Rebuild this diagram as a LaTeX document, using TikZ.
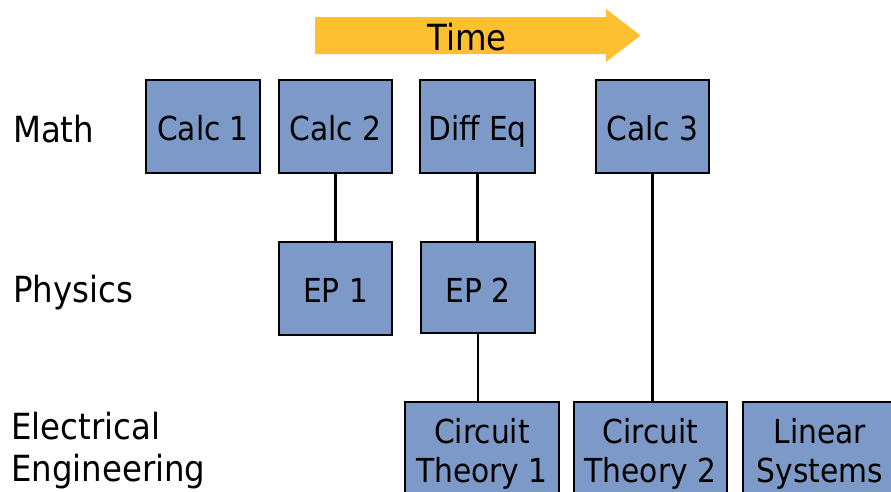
\documentclass[tikz,border=0pt]{standalone}
\usepackage{fontspec}
\setmainfont{DejaVu Sans Condensed}
\definecolor{boxblue}{RGB}{124,153,200}
\definecolor{timeyellow}{RGB}{252,192,48}
\tikzset{
  course/.style={draw=black, line width=2pt, fill=boxblue, inner sep=0pt,
    minimum height=93pt},
  coursetext/.style={anchor=base, inner sep=0pt, align=center,
    font=\fontsize{33}{39}\selectfont},
  rowlabel/.style={anchor=base west, inner sep=0pt, align=left,
    font=\fontsize{36}{43}\selectfont},
  link/.style={draw=black, line width=2.8pt}
}
\begin{document}
\begin{tikzpicture}[x=1pt,y=-1pt]
\useasboundingbox (0,0) rectangle (891,491);
\clip (0,0) rectangle (891,491);
\fill[white] (0,0) rectangle (891,491);
% time arrow
\fill[timeyellow] (315,17) -- (606,17) -- (606,9) -- (640.5,35.5) -- (606,62) -- (606,54) -- (315,54) -- cycle;
\node[anchor=base, inner sep=0pt, font=\fontsize{36}{43}\selectfont] (time) at (467,50) {Time};
% row labels
\node[rowlabel] (lmath) at (13,142) {Math};
\node[rowlabel] (lphys) at (13,302) {Physics};
\node[rowlabel, font=\fontsize{36}{42}\selectfont] (lee) at (11,481.5) {Electrical\\Engineering};
% boxes
\node[course, minimum width=114pt] (c1) at (203,126.5) {};
\node[course, minimum width=113pt] (c2) at (335.5,126.5) {};
\node[course, minimum width=115pt] (de) at (477.5,126.5) {};
\node[course, minimum width=113pt] (c3) at (652.5,126.5) {};
\node[course, minimum width=113pt] (ep1) at (335.5,288.5) {};
\node[course, minimum width=114pt, minimum height=91pt] (ep2) at (478,287.5) {};
\node[course, minimum width=154pt] (ct1) at (482,448.5) {};
\node[course, minimum width=153pt] (ct2) at (650.5,448.5) {};
\node[course, minimum width=154pt] (ls) at (820,448.5) {};
% box texts
\node[coursetext] (c1t) at (203,140) {Calc 1};
\node[coursetext] (c2t) at (335.5,140) {Calc 2};
\node[coursetext] (det) at (477.5,140) {Diff Eq};
\node[coursetext] (c3t) at (652.5,140) {Calc 3};
\node[coursetext] (ep1t) at (335.5,302) {EP 1};
\node[coursetext] (ep2t) at (478,302) {EP 2};
\node[coursetext] (ct1t) at (482,482) {Circuit\\Theory 1};
\node[coursetext] (ct2t) at (650.5,482) {Circuit\\Theory 2};
\node[coursetext] (lst) at (820,482) {Linear\\Systems};
% connectors
\draw[link] (c2.south) -- (ep1.north);
\draw[link] (de.south) -- (de.south |- ep2.north);
\draw[link] (ep2.south) -- (ep2.south |- ct1.north);
\draw[link] (c3.south) -- (c3.south |- ct2.north);
\end{tikzpicture}
\end{document}
